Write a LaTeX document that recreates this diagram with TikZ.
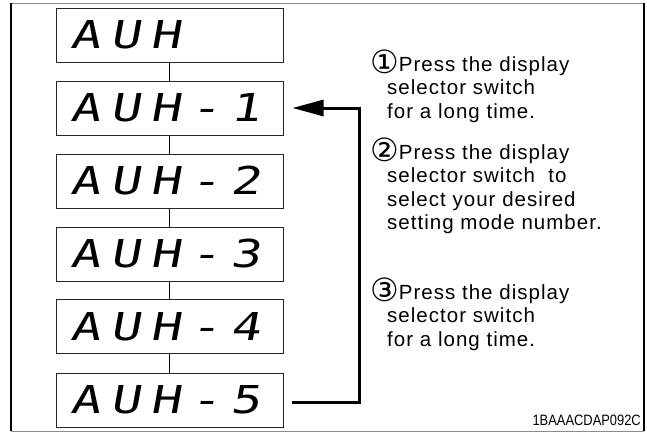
\documentclass[tikz,border=0pt]{standalone}
\usepackage{fontspec}
\setmainfont{Liberation Sans}
\newfontfamily\symfont{DejaVu Sans}
\newfontfamily\bodyfont[LetterSpace=5]{Liberation Sans}
\newfontfamily\codefont[FakeStretch=0.86]{Liberation Sans}
\newfontfamily\segfont[FakeSlant=0.18,FakeStretch=1.3,LetterSpace=26]{DejaVu Sans Mono}
\newcommand{\cnum}[1]{\raisebox{-2pt}{\symfont\fontsize{32}{32}\selectfont #1}}
\usetikzlibrary{arrows.meta}
\begin{document}
\begin{tikzpicture}[x=1pt,y=-1pt,
  dispbox/.style={draw=black!85,line width=1pt,minimum width=227pt,minimum height=54pt,inner sep=0pt},
  segtext/.style={inner sep=0pt,anchor=west,font=\segfont\fontsize{38.4}{40}\selectfont},
  link/.style={line width=1.8pt},
  flow/.style={line width=3pt,-{Triangle[length=31pt,width=16pt]}},
  line/.style={inner sep=0pt,anchor=base west,font=\bodyfont\fontsize{20.5}{23.5}\selectfont},
  code/.style={inner sep=0pt,anchor=base east,font=\codefont\fontsize{15}{17}\selectfont}]
\useasboundingbox (0,0) rectangle (647,432);
% frame
\draw[black!45,line width=1pt] (11,3) -- (644,3) (11,431) -- (644,431);
\draw[black,line width=1.5pt] (11,3) -- (11,431) (644,3) -- (644,431);
% display boxes
\node[dispbox] (b1) at (169.5,35) {};
\node[dispbox] (b2) at (169.5,108) {};
\node[dispbox] (b3) at (169.5,181) {};
\node[dispbox] (b4) at (169.5,254) {};
\node[dispbox] (b5) at (169.5,326.5) {};
\node[dispbox] (b6) at (169.5,400) {};
\node[segtext] (t1) at (70,35) {AUH};
\node[segtext] (t2) at (70,108) {AUH-1};
\node[segtext] (t3) at (70,181) {AUH-2};
\node[segtext] (t4) at (70,254) {AUH-3};
\node[segtext] (t5) at (70,326.5) {AUH-4};
\node[segtext] (t6) at (70,400) {AUH-5};
% connectors
\draw[link] (b1.south) -- (b2.north);
\draw[link] (b2.south) -- (b3.north);
\draw[link] (b3.south) -- (b4.north);
\draw[link] (b4.south) -- (b5.north);
\draw[link] (b5.south) -- (b6.north);
\draw[flow] ([xshift=8pt,yshift=-2pt]b6.east) -- ([xshift=76pt,yshift=-2pt]b6.east) |- ([xshift=9pt]b2.east);
% instructions
\node[line] (s1a) at (370,71) {\cnum{①}Press the display};
\node[line] (s1b) at (387,94.5) {selector switch};
\node[line] (s1c) at (387,118) {for a long time.};
\node[line] (s2a) at (370,159) {\cnum{②}Press the display};
\node[line] (s2b) at (387,182.5) {selector switch\ \ to};
\node[line] (s2c) at (387,206) {select your desired};
\node[line] (s2d) at (387,229.5) {setting mode number.};
\node[line] (s3a) at (370,299) {\cnum{③}Press the display};
\node[line] (s3b) at (387,322.5) {selector switch};
\node[line] (s3c) at (387,346) {for a long time.};
\node[code] (id) at (641,425) {1BAAACDAP092C};
\end{tikzpicture}
\end{document}
